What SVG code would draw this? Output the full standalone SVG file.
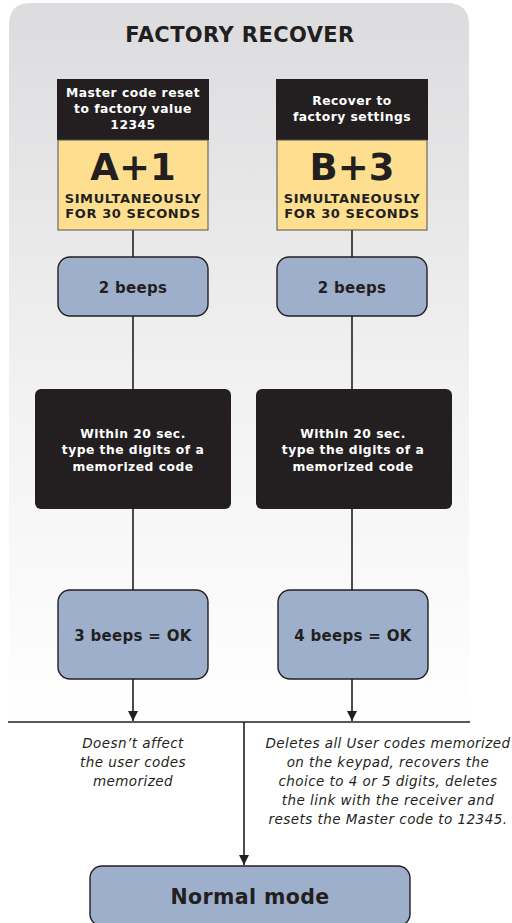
<svg xmlns="http://www.w3.org/2000/svg" width="512" height="923" viewBox="0 0 512 923">
<defs>
<linearGradient id="bg" x1="0" y1="0" x2="0" y2="1">
<stop offset="0" stop-color="#dcdcde"/>
<stop offset="0.55" stop-color="#f2f2f3"/>
<stop offset="1" stop-color="#ffffff"/>
</linearGradient>
<marker id="arr" viewBox="0 0 10 10" refX="10" refY="5" markerWidth="10" markerHeight="10" markerUnits="userSpaceOnUse" orient="auto">
<path d="M0,0 L10,5 L0,10 z" fill="#231f20"/>
</marker>
<style>
text{font-family:"DejaVu Sans",Verdana,sans-serif;text-anchor:middle;fill:#231f20}
.w{fill:#fff;font-weight:bold;font-size:12.3px;letter-spacing:0.5px}
.b{font-weight:bold}
.s{font-weight:bold;font-size:13px;letter-spacing:0.6px}
.m{font-weight:bold;font-size:15px;letter-spacing:0.3px}
.blue{fill:#9eafcc;stroke:#231f20;stroke-width:1.4}
.blk{fill:#231f20}
.yel{fill:#fddf8f;stroke:#55504a;stroke-width:1}
.ln{stroke:#231f20;stroke-width:1.6;fill:none}
.it{font-style:italic;font-size:13.5px;letter-spacing:0.45px}
</style>
</defs>
<path d="M9,723 V25 Q9,3 31,3 H447 Q469,3 469,25 V723 Z" fill="url(#bg)"/>
<text x="240" y="42" class="b" font-size="21" letter-spacing="0.4">FACTORY RECOVER</text>
<g id="connectors">
<line class="ln" x1="133" y1="230" x2="133" y2="257"/>
<line class="ln" x1="133" y1="316" x2="133" y2="389"/>
<line class="ln" x1="133" y1="509" x2="133" y2="590"/>
<line class="ln" x1="133" y1="679" x2="133" y2="721" marker-end="url(#arr)"/>
<line class="ln" x1="352" y1="230" x2="352" y2="257"/>
<line class="ln" x1="352" y1="316" x2="352" y2="389"/>
<line class="ln" x1="352" y1="509" x2="352" y2="590"/>
<line class="ln" x1="352" y1="679" x2="352" y2="721" marker-end="url(#arr)"/>
<line class="ln" x1="8" y1="722" x2="470" y2="722"/>
<line class="ln" x1="244" y1="722" x2="244" y2="865" marker-end="url(#arr)"/>
</g>
<g id="nodeA">
<rect class="blk" x="57" y="79" width="152" height="61"/>
<rect class="yel" x="58" y="140" width="150" height="90"/>
<text class="w" x="133" y="97">Master code reset</text>
<text class="w" x="133" y="113">to factory value</text>
<text class="w" x="133" y="129">12345</text>
<text class="b" x="133" y="180" font-size="37">A+1</text>
<text class="s" x="133" y="203">SIMULTANEOUSLY</text>
<text class="s" x="133" y="218">FOR 30 SECONDS</text>
</g>
<g id="nodeB">
<rect class="blk" x="276" y="79" width="152" height="61"/>
<rect class="yel" x="277" y="140" width="150" height="90"/>
<text class="w" x="352" y="105">Recover to</text>
<text class="w" x="352" y="121">factory settings</text>
<text class="b" x="352" y="180" font-size="37">B+3</text>
<text class="s" x="352" y="203">SIMULTANEOUSLY</text>
<text class="s" x="352" y="218">FOR 30 SECONDS</text>
</g>
<g id="beepsA">
<rect class="blue" x="58" y="257" width="150" height="59" rx="12"/>
<text class="m" x="133" y="293">2 beeps</text>
</g>
<g id="beepsB">
<rect class="blue" x="277" y="257" width="150" height="59" rx="12"/>
<text class="m" x="352" y="293">2 beeps</text>
</g>
<g id="typeA">
<rect class="blk" x="35" y="389" width="196" height="120" rx="6"/>
<text class="w" x="133" y="438">Within 20 sec.</text>
<text class="w" x="133" y="454">type the digits of a</text>
<text class="w" x="133" y="471">memorized code</text>
</g>
<g id="typeB">
<rect class="blk" x="256" y="389" width="196" height="120" rx="6"/>
<text class="w" x="353" y="438">Within 20 sec.</text>
<text class="w" x="353" y="454">type the digits of a</text>
<text class="w" x="353" y="471">memorized code</text>
</g>
<g id="okA">
<rect class="blue" x="58" y="590" width="150" height="89" rx="12"/>
<text class="m" x="133" y="641" letter-spacing="0.1">3 beeps = OK</text>
</g>
<g id="okB">
<rect class="blue" x="278" y="590" width="150" height="89" rx="12"/>
<text class="m" x="353" y="641" letter-spacing="0.1">4 beeps = OK</text>
</g>
<g id="noteA">
<text class="it" x="133" y="748">Doesn’t affect</text>
<text class="it" x="133" y="767">the user codes</text>
<text class="it" x="133" y="786">memorized</text>
</g>
<g id="noteB">
<text class="it" x="388" y="748">Deletes all User codes memorized</text>
<text class="it" x="388" y="767">on the keypad, recovers the</text>
<text class="it" x="388" y="786">choice to 4 or 5 digits, deletes</text>
<text class="it" x="388" y="805">the link with the receiver and</text>
<text class="it" x="388" y="824">resets the Master code to 12345.</text>
</g>
<g id="normal">
<rect class="blue" x="90" y="866" width="320" height="60" rx="12"/>
<text class="b" x="250" y="904" font-size="20.5" letter-spacing="0.4">Normal mode</text>
</g>
</svg>
